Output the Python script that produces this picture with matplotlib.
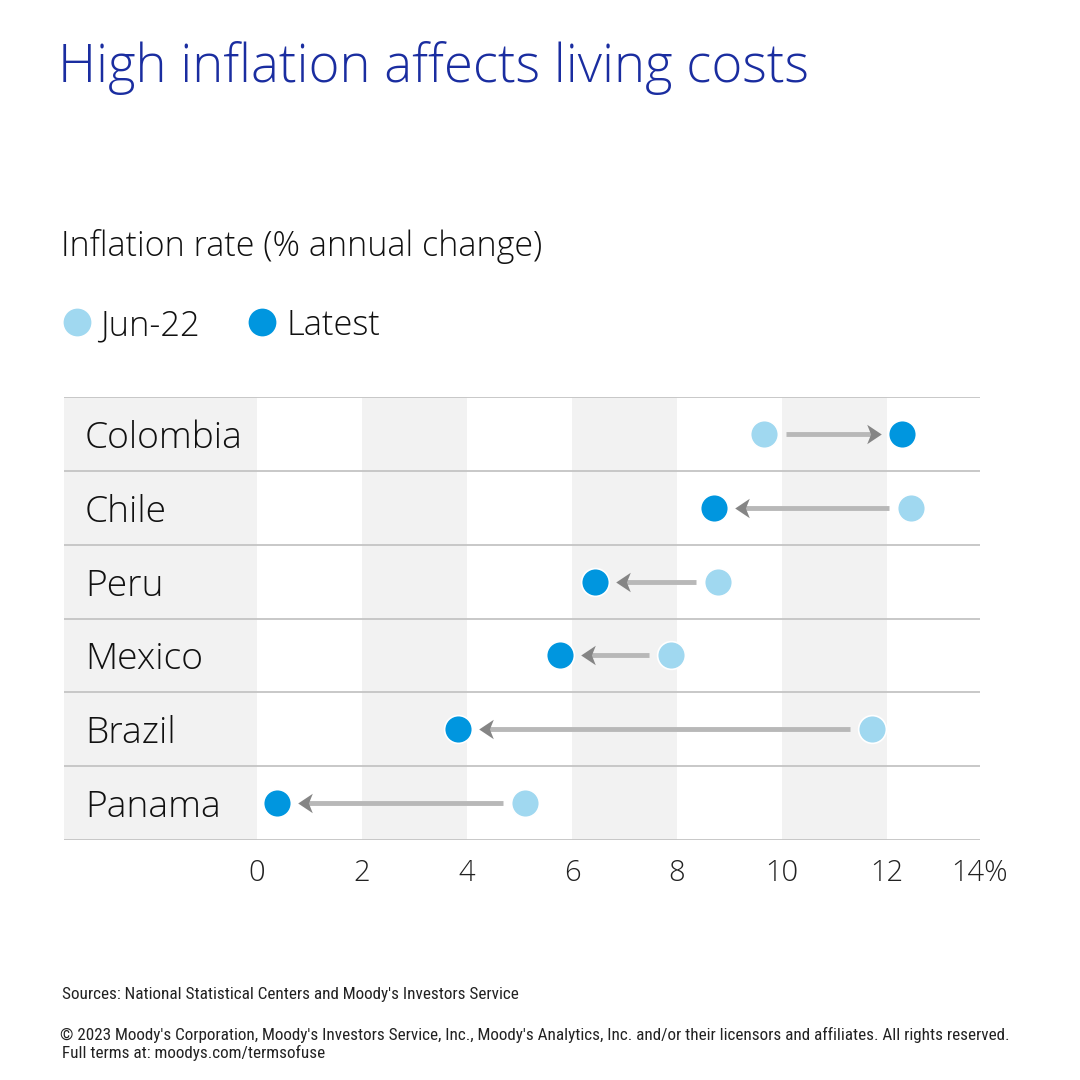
import numpy as np
import matplotlib.pyplot as plt
from matplotlib.transforms import blended_transform_factory

# --- data ---
countries = ['Colombia', 'Chile', 'Peru', 'Mexico', 'Brazil', 'Panama']
jun22 = [9.65, 12.45, 8.78, 7.88, 11.72, 5.10]
latest = [12.28, 8.70, 6.43, 5.78, 3.82, 0.38]
tick_vals = [0, 2, 4, 6, 8, 10, 12]
tick_labels = ['0', '2', '4', '6', '8', '10', '12']

c_jun = '#a0d8f0'
c_latest = '#0096df'
c_band = '#f2f2f2'
c_line = '#c4c4c4'
c_title = '#1a2da0'
font = 'Open Sans'

fig = plt.figure(figsize=(10.8, 10.8), dpi=100)
W = H = 1080.0

# axes placed in pixel terms of the reference
ax_left, ax_right, ax_top, ax_bot = 64, 980, 397, 840
ax = fig.add_axes([ax_left / W, 1 - ax_bot / H, (ax_right - ax_left) / W, (ax_bot - ax_top) / H])

x0_px, unit_px = 257, 52.5
xmin = (ax_left - x0_px) / unit_px
xmax = (ax_right - x0_px) / unit_px
ax.set_xlim(xmin, xmax)
ax.set_ylim(len(countries) - 0.5, -0.5)

# alternating column bands
ax.axvspan(xmin, 0, color=c_band, lw=0, zorder=0)
for b in [2, 6, 10]:
    ax.axvspan(b, b + 2, color=c_band, lw=0, zorder=0)

# row separators
for i in range(len(countries) + 1):
    ax.axhline(i - 0.5, color=c_line, lw=1.3, zorder=1)

# arrows + dots
gap_start = 22 / unit_px
gap_tip = 21 / unit_px
head_half = 7 / unit_px
head_r = [(0.75, 0), (-0.75, 1), (-0.35, 0), (-0.75, -1)]
head_l = [(-x, y) for x, y in head_r]
for i, (a, b) in enumerate(zip(jun22, latest)):
    d = 1 if b > a else -1
    start = a + d * gap_start
    tip = b - d * gap_tip
    hc = tip - d * head_half
    ax.plot([start, hc], [i, i], color='#b8b8b8', lw=3.5, solid_capstyle='butt', zorder=2)
    ax.plot([hc], [i], marker=head_r if d > 0 else head_l, markersize=14,
            color='#858585', markeredgewidth=0, zorder=3)

ax.scatter(jun22, range(len(countries)), s=400, color=c_jun, edgecolor='white', linewidth=1.2, zorder=4)
ax.scatter(latest, range(len(countries)), s=400, color=c_latest, edgecolor='white', linewidth=1.2, zorder=4)

# country labels
trans = blended_transform_factory(fig.transFigure, ax.transData)
for i, c in enumerate(countries):
    ax.text(85 / W, i, c, transform=trans, ha='left', va='center_baseline',
            fontsize=26.8, family=font, fontweight='light', color='#111111')

# x ticks
ax.set_yticks([])
ax.set_xticks(tick_vals + [xmax])
ax.set_xticklabels(tick_labels + ['14%'], fontsize=21, family=font, fontweight='light', color='#222222')
ax.tick_params(axis='x', length=0, pad=13)
for s in ['top', 'left', 'right', 'bottom']:
    ax.spines[s].set_visible(False)

# titles
fig.text(58 / W, 1 - 62 / H, 'High inflation affects living costs', ha='left', va='center_baseline',
         fontsize=38, family=font, fontweight='light', color=c_title)
fig.text(61 / W, 1 - 243 / H, 'Inflation rate (% annual change)', ha='left', va='center_baseline',
         fontsize=24.5, family=font, fontweight='light', color='#111111')

# legend
leg_ax = fig.add_axes([0, 0, 1, 1], facecolor='none')
leg_ax.set_xlim(0, W)
leg_ax.set_ylim(H, 0)
leg_ax.axis('off')
leg_ax.scatter([77], [322], s=400, color=c_jun, lw=0)
leg_ax.scatter([262], [322], s=400, color=c_latest, lw=0)
leg_ax.text(100, 322, 'Jun-22', ha='left', va='center_baseline', fontsize=24.8, family=font, fontweight='light', color='#111111')
leg_ax.text(287, 322, 'Latest', ha='left', va='center_baseline', fontsize=24.8, family=font, fontweight='light', color='#111111')

# footer
foot = ['Roboto Condensed', 'Liberation Sans Narrow', 'DejaVu Sans Condensed', 'Roboto']
fs = 12.3
fig.text(62 / W, 1 - 995 / H, 'Sources: National Statistical Centers and Moody\'s Investors Service',
         ha='left', va='center', fontsize=fs, family=foot, color='#222222')
fig.text(60 / W, 1 - 1035 / H,
         '\u00a9 2023 Moody\'s Corporation, Moody\'s Investors Service, Inc., Moody\'s Analytics, Inc. and/or their licensors and affiliates. All rights reserved.',
         ha='left', va='center', fontsize=fs, family=foot, color='#222222')
fig.text(62 / W, 1 - 1053 / H, 'Full terms at: moodys.com/termsofuse',
         ha='left', va='center', fontsize=fs, family=foot, color='#222222')

plt.savefig('out.png', dpi=100, facecolor='white')
